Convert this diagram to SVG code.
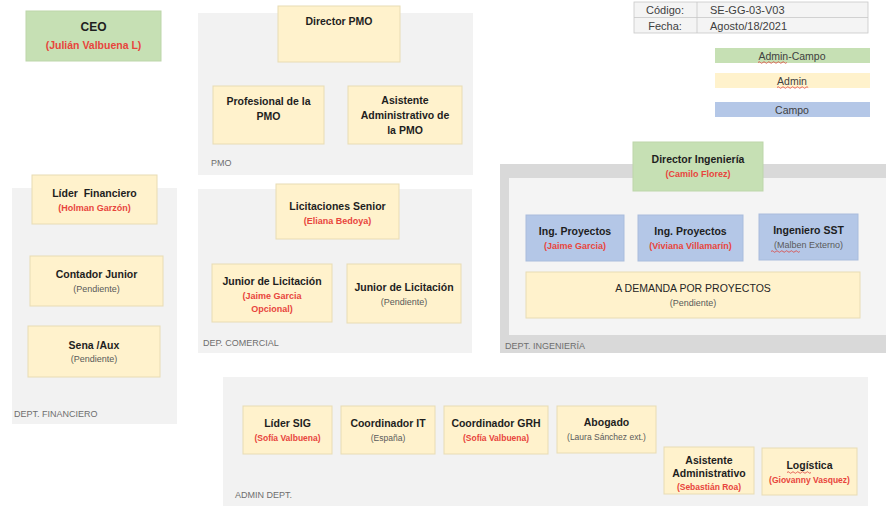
<svg xmlns="http://www.w3.org/2000/svg" width="886" height="506" viewBox="0 0 886 506">
  <style>
    text { font-family: "Liberation Sans", "Open Sans", Arial, sans-serif; }
    .cont { fill: #f2f2f2; }
    .y { fill: #fff2cc; stroke: #e8dcb4; stroke-width: 1; }
    .g { fill: #c6e0b4; stroke: #bdd6aa; stroke-width: 1; }
    .b { fill: #b4c7e7; stroke: #a9bcdc; stroke-width: 1; }
    .t { font-size: 10.5px; font-weight: bold; fill: #1e1e1e; text-anchor: middle; }
    .r { font-size: 9px; font-weight: bold; fill: #e8453c; text-anchor: middle; }
    .p { font-size: 9px; fill: #5a5a5a; text-anchor: middle; }
    .lbl { font-size: 9px; fill: #6e6e6e; }
    .leg { font-size: 10.5px; fill: #404040; text-anchor: middle; }
    .tab { font-size: 11px; fill: #404040; }
    .sq { fill: none; stroke: #e0403a; stroke-width: 0.8; }
  </style>
  <rect width="886" height="506" fill="#ffffff"/>

  <!-- department containers -->
  <g id="dept-pmo">
    <rect class="cont" x="198" y="13" width="275" height="162"/>
    <text class="lbl" x="211" y="166">PMO</text>
  </g>
  <g id="dept-comercial">
    <rect class="cont" x="198" y="189" width="274" height="164"/>
    <text class="lbl" x="203" y="346">DEP. COMERCIAL</text>
  </g>
  <g id="dept-financiero">
    <rect class="cont" x="12" y="188" width="165" height="236"/>
    <text class="lbl" x="14" y="417">DEPT. FINANCIERO</text>
  </g>
  <g id="dept-ingenieria">
    <rect x="500" y="164" width="386" height="189" fill="#d9d9d9"/>
    <rect x="509" y="178" width="377" height="157" fill="#f4f4f4"/>
    <text class="lbl" x="505" y="349">DEPT. INGENIERÍA</text>
  </g>
  <g id="dept-admin">
    <rect class="cont" x="223" y="377" width="645" height="129"/>
    <text class="lbl" x="235" y="498">ADMIN DEPT.</text>
  </g>

  <!-- document header table -->
  <g id="doc-info">
    <rect x="634" y="2" width="234" height="31" fill="#f4f4f4" stroke="#c8c8c8" stroke-width="0.8"/>
    <line x1="634" y1="17.5" x2="868" y2="17.5" stroke="#c8c8c8" stroke-width="0.8"/>
    <line x1="697" y1="2" x2="697" y2="33" stroke="#c8c8c8" stroke-width="0.8"/>
    <text class="tab" x="665" y="14" text-anchor="middle">Código:</text>
    <text class="tab" x="665" y="29.5" text-anchor="middle">Fecha:</text>
    <text class="tab" x="710" y="14">SE-GG-03-V03</text>
    <text class="tab" x="710" y="29.5">Agosto/18/2021</text>
  </g>

  <!-- legend -->
  <g id="legend-admin-campo">
    <rect x="715" y="48" width="155" height="15" fill="#c6e0b4"/>
    <text class="leg" x="792" y="59.5">Admin-Campo</text>
    <path class="sq" d="M758 62.5 q1.2 -1.5 2.4 0 t2.4 0 t2.4 0 t2.4 0 t2.4 0 t2.4 0 t2.4 0 t2.4 0 t2.4 0 t2.4 0 t2.4 0 t2.4 0"/>
  </g>
  <g id="legend-admin">
    <rect x="715" y="73" width="155" height="15" fill="#fff2cc"/>
    <text class="leg" x="792" y="84.5">Admin</text>
    <path class="sq" d="M777 87.5 q1.2 -1.5 2.4 0 t2.4 0 t2.4 0 t2.4 0 t2.4 0 t2.4 0 t2.4 0 t2.4 0 t2.4 0 t2.4 0 t2.4 0 t2.4 0 t2.4 0"/>
  </g>
  <g id="legend-campo">
    <rect x="715" y="102" width="155" height="15" fill="#b4c7e7"/>
    <text class="leg" x="792" y="113.5">Campo</text>
  </g>

  <!-- CEO -->
  <g id="ceo">
    <rect class="g" x="26" y="11" width="135" height="50"/>
    <text class="t" x="93.5" y="31" style="font-size:12px">CEO</text>
    <text class="r" x="93.5" y="49" style="font-size:10.5px">(Julián Valbuena L)</text>
  </g>

  <!-- PMO -->
  <g id="director-pmo">
    <rect class="y" x="278" y="6" width="122" height="56"/>
    <text class="t" x="339" y="25">Director PMO</text>
  </g>
  <g id="profesional-pmo">
    <rect class="y" x="213" y="86" width="111" height="58"/>
    <text class="t" x="268.5" y="105">Profesional de la</text>
    <text class="t" x="268.5" y="120">PMO</text>
  </g>
  <g id="asistente-pmo">
    <rect class="y" x="348" y="86" width="114" height="58"/>
    <text class="t" x="405" y="104">Asistente</text>
    <text class="t" x="405" y="119">Administrativo de</text>
    <text class="t" x="405" y="134">la PMO</text>
  </g>

  <!-- Comercial -->
  <g id="licitaciones-senior">
    <rect class="y" x="276" y="184" width="123" height="55"/>
    <text class="t" x="337.5" y="210">Licitaciones Senior</text>
    <text class="r" x="337.5" y="224">(Eliana Bedoya)</text>
  </g>
  <g id="junior-licitacion-1">
    <rect class="y" x="212" y="264" width="120" height="58"/>
    <text class="t" x="272" y="285">Junior de Licitación</text>
    <text class="r" x="272" y="299">(Jaime Garcia</text>
    <text class="r" x="272" y="312">Opcional)</text>
  </g>
  <g id="junior-licitacion-2">
    <rect class="y" x="347" y="264" width="114" height="59"/>
    <text class="t" x="404" y="291">Junior de Licitación</text>
    <text class="p" x="404" y="305">(Pendiente)</text>
  </g>

  <!-- Financiero -->
  <g id="lider-financiero">
    <rect class="y" x="32" y="175" width="125" height="49"/>
    <text class="t" x="94.5" y="197" xml:space="preserve">Líder  Financiero</text>
    <text class="r" x="94.5" y="211">(Holman Garzón)</text>
  </g>
  <g id="contador-junior">
    <rect class="y" x="30" y="256" width="133" height="50"/>
    <text class="t" x="96.5" y="278">Contador Junior</text>
    <text class="p" x="96.5" y="292">(Pendiente)</text>
  </g>
  <g id="sena-aux">
    <rect class="y" x="28" y="326" width="132" height="51"/>
    <text class="t" x="94" y="349">Sena /Aux</text>
    <text class="p" x="94" y="362">(Pendiente)</text>
  </g>

  <!-- Ingenieria -->
  <g id="director-ingenieria">
    <rect class="g" x="633" y="142" width="130" height="49"/>
    <text class="t" x="698" y="163">Director Ingeniería</text>
    <text class="r" x="698" y="177">(Camilo Florez)</text>
  </g>
  <g id="ing-proyectos-1">
    <rect class="b" x="526" y="215" width="98" height="46"/>
    <text class="t" x="575" y="235">Ing. Proyectos</text>
    <text class="r" x="575" y="249">(Jaime Garcia)</text>
  </g>
  <g id="ing-proyectos-2">
    <rect class="b" x="638" y="215" width="105" height="46"/>
    <text class="t" x="690.5" y="235">Ing. Proyectos</text>
    <text class="r" x="690.5" y="249">(Viviana Villamarín)</text>
  </g>
  <g id="ingeniero-sst">
    <rect class="b" x="759" y="214" width="99" height="46"/>
    <text class="t" x="808.5" y="234">Ingeniero SST</text>
    <text class="p" x="808.5" y="248">(Malben Externo)</text>
    <path class="sq" d="M771 251.5 q1.2 -1.5 2.4 0 t2.4 0 t2.4 0 t2.4 0 t2.4 0 t2.4 0 t2.4 0 t2.4 0 t2.4 0 t2.4 0 t2.4 0 t2.4 0"/>
  </g>
  <g id="a-demanda">
    <rect class="y" x="526" y="272" width="334" height="46"/>
    <text class="t" x="693" y="292" style="font-weight:normal;fill:#262626">A DEMANDA POR PROYECTOS</text>
    <text class="p" x="693" y="306">(Pendiente)</text>
  </g>

  <!-- Admin -->
  <g id="lider-sig">
    <rect class="y" x="243" y="406" width="89" height="48"/>
    <text class="t" x="287.5" y="427">Líder SIG</text>
    <text class="r" x="287.5" y="441" style="font-size:8.5px">(Sofía Valbuena)</text>
  </g>
  <g id="coordinador-it">
    <rect class="y" x="341" y="406" width="94" height="48"/>
    <text class="t" x="388" y="427">Coordinador IT</text>
    <text class="p" x="388" y="441" style="font-size:8.5px">(España)</text>
  </g>
  <g id="coordinador-grh">
    <rect class="y" x="444" y="406" width="104" height="48"/>
    <text class="t" x="496" y="427">Coordinador GRH</text>
    <text class="r" x="496" y="441" style="font-size:8.5px">(Sofía Valbuena)</text>
  </g>
  <g id="abogado">
    <rect class="y" x="557" y="406" width="99" height="47"/>
    <text class="t" x="606.5" y="426">Abogado</text>
    <text class="p" x="606.5" y="440" style="font-size:8.5px">(Laura Sánchez ext.)</text>
  </g>
  <g id="asistente-administrativo">
    <rect class="y" x="664" y="447" width="90" height="47"/>
    <text class="t" x="709" y="464">Asistente</text>
    <text class="t" x="709" y="477">Administrativo</text>
    <text class="r" x="709" y="490" style="font-size:8.5px">(Sebastián Roa)</text>
  </g>
  <g id="logistica">
    <rect class="y" x="762" y="448" width="95" height="47"/>
    <text class="t" x="809.5" y="469">Logística</text>
    <text class="r" x="809.5" y="483" style="font-size:8.5px">(Giovanny Vasquez)</text>
    <path class="sq" d="M787 472.5 q1.2 -1.5 2.4 0 t2.4 0 t2.4 0 t2.4 0 t2.4 0 t2.4 0 t2.4 0 t2.4 0 t2.4 0 t2.4 0"/>
  </g>
</svg>
